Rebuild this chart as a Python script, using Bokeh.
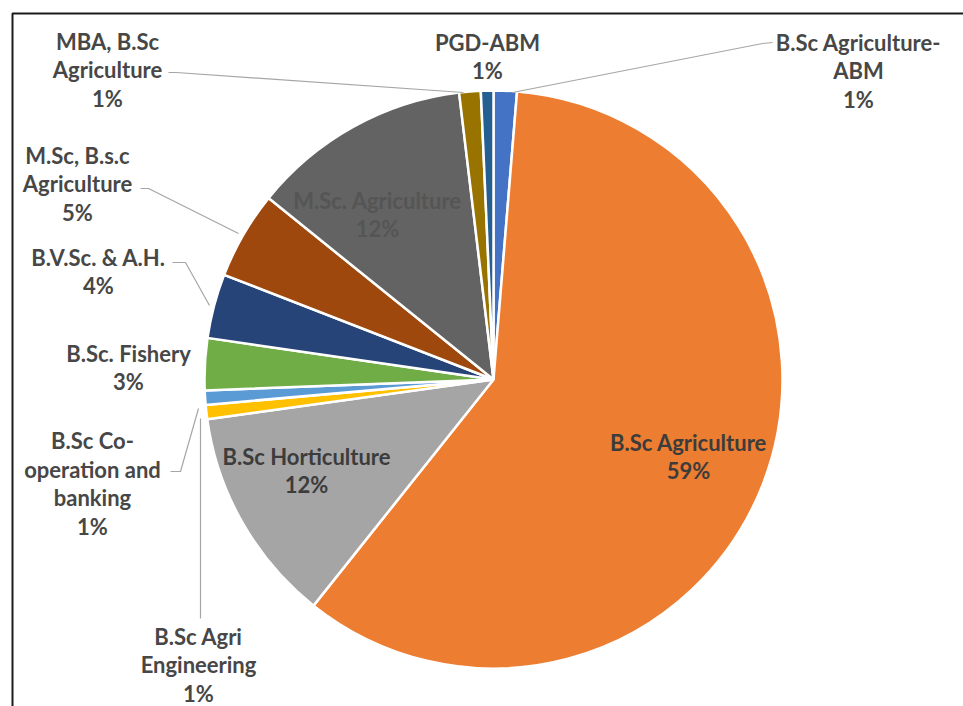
import math
from bokeh.plotting import figure
from bokeh.models import ColumnDataSource
from bokeh.embed import file_html
from bokeh.resources import INLINE
from bokeh.core.properties import value

# ---------------- data ----------------
categories = [
    "B.Sc Agriculture-ABM",
    "B.Sc Agriculture",
    "B.Sc Horticulture",
    "B.Sc Agri Engineering",
    "B.Sc Co-operation and banking",
    "B.Sc. Fishery",
    "B.V.Sc. & A.H.",
    "M.Sc, B.s.c Agriculture",
    "M.Sc. Agriculture",
    "MBA, B.Sc Agriculture",
    "PGD-ABM",
]
shares = [1.3, 59.4, 12.1, 0.8, 0.8, 2.9, 3.6, 4.9, 12.3, 1.2, 0.7]
label_lines = [
    ["B.Sc Agriculture-", "ABM"],
    ["B.Sc Agriculture"],
    ["B.Sc Horticulture"],
    ["B.Sc Agri", "Engineering"],
    ["B.Sc Co-", "operation and", "banking"],
    ["B.Sc. Fishery"],
    ["B.V.Sc. & A.H."],
    ["M.Sc, B.s.c", "Agriculture"],
    ["M.Sc. Agriculture"],
    ["MBA, B.Sc", "Agriculture"],
    ["PGD-ABM"],
]
colors = ["#4472C4", "#ED7D31", "#A5A5A5", "#FFC000", "#5B9BD5", "#70AD47",
          "#264478", "#9E480E", "#636363", "#997300", "#255E91"]

# ---------------- layout (page pixels) ----------------
W, H = 963, 706
CX, CY, R = 493, 379, 289
LINE_GAP = 28.5
# label block centres (page px)
label_pos = [(858, 70), (688, 456), (306, 470), (198, 664), (92, 483),
             (128, 367), (98, 271), (77, 183), (377, 214), (107, 69), (487, 56)]
text_colors = ["#474747", "#3c3c3c", "#3c3c3c", "#474747", "#474747", "#474747",
               "#474747", "#474747", "#555555", "#474747", "#474747"]
# leader lines, page px polylines
leaders = {
    0: [(772, 42), (762, 43), (512, 92)],
    3: [(200, 618), (200, 418)],
    4: [(170, 471), (180, 471), (198, 408)],
    6: [(172, 262), (185, 262), (209, 305)],
    7: [(140, 188), (148, 188), (238, 233)],
    9: [(168, 72), (176, 72), (463, 92)],
}


def px(X):
    return X


def py(Y):
    return H - Y


p = figure(width=W, height=H, x_range=(0, W), y_range=(0, H),
           output_backend="svg", toolbar_location=None,
           x_axis_type=None, y_axis_type=None, min_border=0)
p.grid.visible = False
p.outline_line_color = None
p.background_fill_color = "white"
p.border_fill_color = "white"

# frame border (top and left only visible in the crop)
p.line([px(12), px(12), px(980)], [py(720), py(13), py(13)],
       line_color="#1a1a1a", line_width=2)

# wedges
total = sum(shares)
starts, ends = [], []
cum = 0.0
for s in shares:
    a0 = math.pi / 2 - 2 * math.pi * cum / total
    cum += s
    a1 = math.pi / 2 - 2 * math.pi * cum / total
    starts.append(a1)
    ends.append(a0)

src = ColumnDataSource(dict(start=starts, end=ends, color=colors, cat=categories,
                            share=shares))
p.wedge(x=px(CX), y=py(CY), radius=R, start_angle="start", end_angle="end",
        direction="anticlock", fill_color="color", line_color="white",
        line_width=2.5, source=src)

# leader lines
for i, pts in leaders.items():
    p.line([px(a) for a, b in pts], [py(b) for a, b in pts],
           line_color="#a6a6a6", line_width=1.2)

# labels
tx, ty, tt, tc = [], [], [], []
for i, (lines, s) in enumerate(zip(label_lines, shares)):
    all_lines = lines + [f"{round(s)}%"]
    bx, by = label_pos[i]
    n = len(all_lines)
    for k, t in enumerate(all_lines):
        tx.append(px(bx))
        ty.append(py(by + (k - (n - 1) / 2) * LINE_GAP))
        tt.append(t)
        tc.append(text_colors[i])

p.text(x=tx, y=ty, text=tt, text_color=tc, text_align="center",
       text_baseline="middle", text_font=value("Lato"), text_font_style="bold",
       text_font_size="22px")

open("out.html", "w").write(file_html(p, INLINE))
